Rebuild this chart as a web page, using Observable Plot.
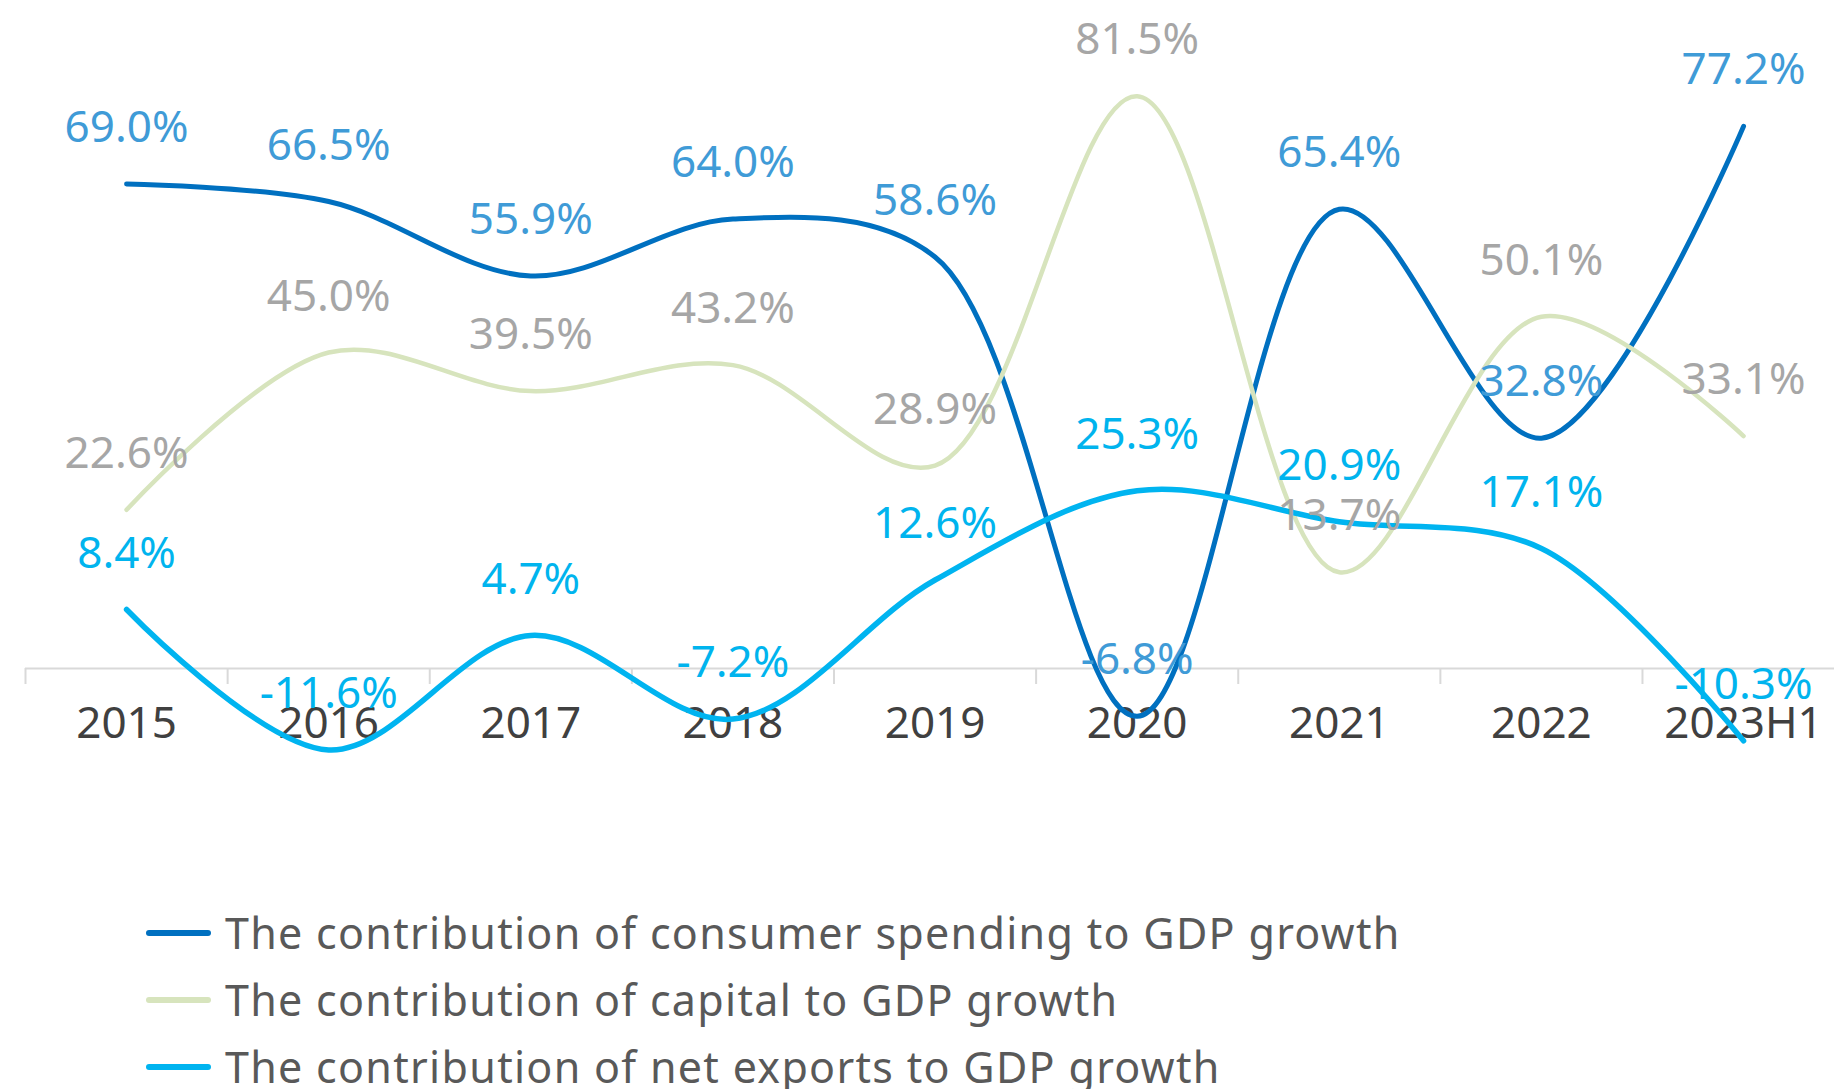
<!DOCTYPE html>
<html>
<head>
<meta charset="utf-8">
<script src="https://cdn.jsdelivr.net/npm/d3@7"></script>
<script src="https://cdn.jsdelivr.net/npm/@observablehq/plot@0.6"></script>
<style>
  html, body { margin: 0; padding: 0; background: #fff; overflow: hidden; }
  #chart svg { display: block; }
  .legend { font-family: "Noto Sans", sans-serif; font-size: 43px; letter-spacing: 1.3px; color: #595959; padding-left: 146px; padding-top: 19px; }
  .legend .row { height: 67px; display: flex; align-items: center; }
  .legend .sw { width: 65px; height: 6px; border-radius: 3px; margin-right: 14px; }
</style>
</head>
<body>
<div id="chart"></div>
<div class="legend" id="legend"></div>
<script>
const categories = ["2015", "2016", "2017", "2018", "2019", "2020", "2021", "2022", "2023H1"];
const consumer = [69.0, 66.5, 55.9, 64.0, 58.6, -6.8, 65.4, 32.8, 77.2];
const capital = [22.6, 45.0, 39.5, 43.2, 28.9, 81.5, 13.7, 50.1, 33.1];
const netExports = [8.4, -11.6, 4.7, -7.2, 12.6, 25.3, 20.9, 17.1, -10.3];
const seriesNames = [
  "The contribution of consumer spending to GDP growth",
  "The contribution of capital to GDP growth",
  "The contribution of net exports to GDP growth"
];

const lineColors = ["#0070C0", "#D7E4BD", "#00B4F0"];
const labelColors = ["#3F9BD7", "#A6A6A6", "#00B4EE"];
const lineWidths = [5, 4.5, 5.5];

const allSeries = [consumer, capital, netExports].map((vals, s) =>
  categories.map((c, i) => ({ i, cat: c, v: vals[i], s }))
);

const idx = categories.map((c, i) => i);
const bounds = [...idx.map(i => i - 0.5), categories.length - 0.5];

const marks = [
  Plot.ruleY([0], { stroke: "#D9D9D9", strokeWidth: 2 }),
  Plot.axisX({ ticks: bounds, tickFormat: () => "", tickSize: 16, stroke: "#D9D9D9", strokeWidth: 2, label: null }),
  Plot.axisX({ ticks: idx, tickFormat: i => categories[i], tickSize: 0, tickPadding: 38, fontSize: 44, fill: "#404040", color: "#404040", label: null })
];
allSeries.forEach((data, s) => {
  marks.push(Plot.line(data, { x: "i", y: "v", curve: "catmull-rom", stroke: lineColors[s], strokeWidth: lineWidths[s], strokeLinecap: "round" }));
});
allSeries.forEach((data, s) => {
  marks.push(Plot.text(data, { x: "i", y: "v", text: d => d.v.toFixed(1) + "%", dy: -56, fill: labelColors[s], fontSize: 44 }));
});

const chart = Plot.plot({
  width: 1834,
  height: 880,
  marginLeft: 25,
  marginRight: 0,
  marginTop: 36,
  marginBottom: 212,
  style: { fontFamily: "Noto Sans, sans-serif", overflow: "visible", background: "transparent" },
  x: { type: "linear", domain: [-0.5, 8.45], axis: null, label: null },
  y: { domain: [0, 90], axis: null, label: null },
  marks
});
document.getElementById("chart").appendChild(chart);

const legend = document.getElementById("legend");
seriesNames.forEach((name, s) => {
  const row = document.createElement("div");
  row.className = "row";
  const sw = document.createElement("div");
  sw.className = "sw";
  sw.style.background = lineColors[s];
  const t = document.createElement("span");
  t.textContent = name;
  row.appendChild(sw);
  row.appendChild(t);
  legend.appendChild(row);
});
</script>
</body>
</html>
